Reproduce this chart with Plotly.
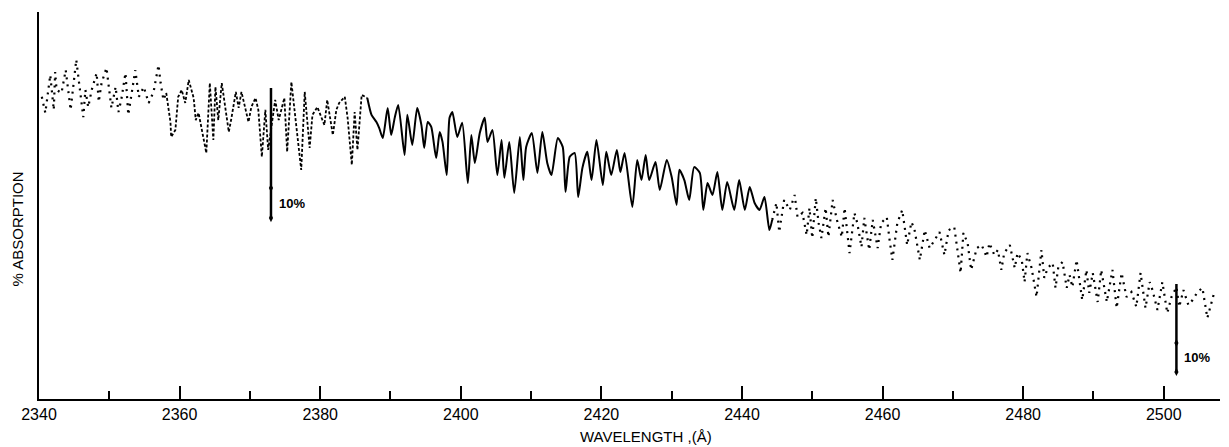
import plotly.graph_objects as go

# ---- data (wavelength in Angstrom, relative % absorption) ----
WAVELENGTH = [
    2340.4, 2340.9, 2341.6, 2342.1, 2342.3, 2342.5, 2343.2, 2343.8, 2344.5, 2345.3,
    2346.3, 2346.6, 2347.0, 2347.5, 2348.2, 2348.5, 2348.9, 2349.6, 2350.3, 2350.9,
    2351.3, 2351.7, 2352.3, 2352.7, 2353.7, 2354.2, 2354.9, 2355.6, 2356.3, 2357.0,
    2357.3, 2357.7, 2358.1, 2358.7, 2358.8, 2359.4, 2359.8, 2360.3, 2360.8, 2361.3,
    2362.0, 2362.3, 2362.7, 2363.1, 2363.8, 2364.3, 2364.8, 2365.1, 2365.5, 2366.0,
    2366.5, 2367.0, 2367.4, 2368.0, 2368.4, 2368.8, 2369.4, 2369.8, 2370.2, 2370.8,
    2371.2, 2371.7, 2372.2, 2372.6, 2373.6, 2374.1, 2374.9, 2375.3, 2375.9, 2376.3,
    2377.3, 2377.8, 2378.5, 2378.9, 2379.6, 2380.6, 2381.0, 2381.8, 2382.3, 2382.7,
    2383.5, 2383.9, 2384.5, 2384.9, 2385.3, 2385.9, 2386.7, 2387.3, 2388.0, 2388.4,
    2388.9, 2389.6, 2390.1, 2390.6, 2391.1, 2392.0, 2392.4, 2393.1, 2393.8, 2394.4,
    2394.8, 2395.3, 2395.8, 2396.5, 2397.0, 2397.4, 2398.0, 2398.4, 2398.8, 2399.5,
    2400.2, 2401.0, 2401.5, 2402.0, 2402.7, 2403.4, 2403.8, 2404.5, 2405.2, 2405.8,
    2406.2, 2406.9, 2407.6, 2408.4, 2408.9, 2409.3, 2410.1, 2410.9, 2411.6, 2412.3,
    2412.9, 2413.8, 2414.5, 2414.9, 2415.5, 2416.2, 2416.7, 2417.3, 2418.0, 2418.6,
    2419.3, 2420.2, 2420.7, 2421.4, 2422.2, 2422.7, 2423.3, 2424.4, 2425.1, 2425.7,
    2426.3, 2426.8, 2427.7, 2428.3, 2429.3, 2430.0, 2430.7, 2431.1, 2431.8, 2432.5,
    2433.2, 2434.0, 2434.5, 2435.1, 2435.8, 2436.5, 2437.2, 2437.9, 2438.9, 2439.6,
    2440.4, 2441.1, 2441.8, 2442.5, 2443.2, 2443.9, 2444.3, 2444.9, 2445.3, 2446.0,
    2446.8, 2447.5, 2447.9, 2448.6, 2449.2, 2449.6, 2450.0, 2450.5, 2450.9, 2451.3,
    2451.9, 2452.3, 2452.9, 2453.5, 2454.2, 2454.6, 2455.3, 2456.0, 2456.4, 2457.0,
    2457.4, 2458.1, 2458.6, 2459.3, 2459.8, 2460.6, 2461.0, 2461.4, 2462.1, 2462.8,
    2463.5, 2464.1, 2464.5, 2465.3, 2466.0, 2466.7, 2467.4, 2468.1, 2468.8, 2469.4,
    2470.2, 2471.1, 2471.5, 2472.1, 2472.6, 2473.4, 2474.1, 2474.8, 2475.2, 2475.9,
    2476.4, 2476.9, 2477.3, 2478.1, 2478.8, 2479.2, 2479.8, 2480.2, 2480.6, 2481.2,
    2481.9, 2482.6, 2483.0, 2483.5, 2484.2, 2484.6, 2485.0, 2485.6, 2486.2, 2486.6,
    2487.0, 2487.6, 2488.4, 2489.0, 2489.4, 2489.9, 2490.6, 2491.1, 2491.9, 2492.7,
    2493.3, 2494.0, 2494.7, 2495.4, 2496.1, 2496.7, 2497.4, 2498.0, 2498.4, 2499.1,
    2499.8, 2500.5, 2501.1, 2501.8, 2502.2, 2502.8, 2503.5, 2504.1, 2504.8, 2505.5,
    2506.2, 2506.8, 2507.2,
]
ABSORPTION = [
    109.3, 103.5, 117.2, 104.6, 118.3, 111.8, 110.7, 119.0, 104.6, 122.7,
    102.0, 111.8, 105.6, 111.8, 117.9, 107.5, 114.3, 119.8, 105.3, 112.9,
    103.8, 108.2, 117.9, 102.8, 119.0, 109.3, 112.9, 107.1, 111.1, 120.8,
    114.3, 108.2, 110.7, 100.2, 94.8, 97.3, 109.3, 111.8, 107.1, 115.4,
    108.9, 100.9, 103.5, 98.4, 89.0, 114.3, 93.7, 112.9, 100.9, 114.3,
    104.6, 96.6, 102.0, 111.1, 105.3, 111.1, 104.6, 100.2, 105.6, 108.9,
    104.6, 87.6, 104.6, 90.1, 108.2, 100.9, 108.9, 89.4, 114.7, 105.3,
    82.9, 111.1, 90.8, 102.8, 105.6, 99.1, 108.2, 95.5, 104.6, 107.1,
    109.3, 101.7, 84.7, 103.8, 90.1, 110.0, 108.9, 102.8, 100.2, 98.0,
    94.4, 105.3, 95.5, 101.7, 106.4, 88.3, 102.8, 91.9, 105.3, 99.1,
    90.8, 100.2, 98.4, 87.2, 96.6, 93.0, 81.0, 101.7, 103.8, 94.8,
    99.9, 78.1, 95.5, 85.4, 96.2, 101.7, 93.0, 97.3, 81.0, 93.7,
    80.0, 93.0, 74.5, 94.8, 79.2, 91.2, 96.2, 81.8, 96.6, 85.4,
    81.0, 94.4, 91.2, 74.9, 87.6, 89.0, 73.1, 83.6, 89.4, 79.2,
    93.7, 77.4, 89.4, 81.0, 90.1, 82.1, 89.0, 69.5, 86.5, 79.2,
    88.3, 79.2, 85.7, 75.6, 86.5, 80.3, 70.2, 82.9, 79.2, 72.0,
    83.9, 81.8, 68.4, 78.1, 73.8, 82.1, 68.4, 78.5, 68.4, 79.2,
    68.4, 76.7, 70.9, 68.4, 73.1, 61.1, 64.8, 70.9, 60.4, 72.0,
    68.4, 73.8, 65.8, 67.3, 59.3, 69.1, 58.2, 72.7, 63.7, 58.2,
    69.1, 58.6, 72.0, 64.8, 58.6, 69.1, 52.8, 67.3, 63.7, 55.0,
    65.5, 53.9, 64.8, 54.6, 63.7, 65.8, 57.5, 50.3, 63.7, 68.4,
    55.7, 64.0, 61.9, 50.3, 61.1, 54.6, 57.5, 60.4, 52.1, 61.1,
    62.2, 45.6, 60.1, 56.4, 46.7, 54.6, 55.7, 51.4, 56.4, 52.1,
    53.9, 46.7, 52.8, 55.7, 47.4, 52.8, 50.3, 42.3, 52.8, 47.4,
    36.9, 53.9, 43.8, 47.4, 49.2, 40.2, 47.8, 49.6, 40.2, 44.9,
    40.5, 50.3, 35.8, 46.7, 38.4, 45.6, 35.1, 46.7, 35.1, 46.7,
    32.9, 45.6, 36.9, 38.7, 33.3, 45.6, 32.9, 42.3, 39.4, 32.2,
    42.3, 31.1, 36.9, 40.5, 33.3, 39.4, 34.0, 35.8, 38.7, 40.2,
    29.3, 34.7, 38.7,
]

# wavelength limits of the differently inked stretches of the trace
SEGMENT_BREAKS = [2340.0, 2358.1, 2386.7, 2444.3, 2508.0]

# the two 10 % scale bars: wavelength, top, 10 % mark, bottom
SCALE_BAR_X = [2373.0, 2501.8]
SCALE_BAR_TOP = [112.5, 41.6]
SCALE_BAR_MARK = [76.3, 20.3]
SCALE_BAR_BOTTOM = [65.5, 9.8]
SCALE_LABEL = "10%"

X_TICKS = [2340, 2360, 2380, 2400, 2420, 2440, 2460, 2480, 2500]

fig = go.Figure()

styles = [
    dict(dash="2px,5px", width=2.2, shape="linear"),
    dict(dash="3px,2px", width=1.8, shape="linear"),
    dict(dash="solid", width=2.0, shape="spline"),
    dict(dash="2px,5px", width=2.2, shape="linear"),
]
for i, st in enumerate(styles):
    lo, hi = SEGMENT_BREAKS[i], SEGMENT_BREAKS[i + 1]
    xs = [w for w in WAVELENGTH if lo <= w <= hi]
    ys = [a for w, a in zip(WAVELENGTH, ABSORPTION) if lo <= w <= hi]
    line = dict(color="black", width=st["width"], dash=st["dash"], shape=st["shape"])
    if st["shape"] == "spline":
        line["smoothing"] = 0.6
    fig.add_trace(go.Scatter(x=xs, y=ys, mode="lines", line=line,
                             showlegend=False, hoverinfo="skip"))

for bx, top, mark, bot in zip(SCALE_BAR_X, SCALE_BAR_TOP, SCALE_BAR_MARK, SCALE_BAR_BOTTOM):
    fig.add_trace(go.Scatter(x=[bx, bx], y=[top, bot], mode="lines",
                             line=dict(color="black", width=2.5),
                             showlegend=False, hoverinfo="skip"))
    fig.add_trace(go.Scatter(x=[bx, bx], y=[mark, bot], mode="markers",
                             marker=dict(symbol="diamond-tall", size=6, color="black"),
                             showlegend=False, hoverinfo="skip"))
    fig.add_annotation(x=bx, y=(mark + bot) / 2, text="<b>" + SCALE_LABEL + "</b>",
                       showarrow=False, xanchor="left", xshift=6, yanchor="middle",
                       font=dict(family="Liberation Sans", size=13, color="black"))

fig.add_annotation(x=0.514, y=-0.098, xref="paper", yref="paper",
                   text="WAVELENGTH ,(Å)", showarrow=False,
                   xanchor="center", yanchor="middle",
                   font=dict(family="Liberation Sans", size=15, color="black"))
fig.add_annotation(x=-0.018, y=0.44, xref="paper", yref="paper",
                   text="% ABSORPTION", showarrow=False, textangle=-90,
                   xanchor="center", yanchor="middle",
                   font=dict(family="Liberation Sans", size=15, color="black"))

fig.update_layout(
    width=1229, height=447,
    margin=dict(l=39, r=9, t=12, b=48),
    paper_bgcolor="white", plot_bgcolor="white",
    xaxis=dict(
        range=[2340, 2508], showgrid=False, zeroline=False,
        showline=True, linecolor="black", linewidth=2,
        tickmode="array", tickvals=X_TICKS, ticktext=[str(t) for t in X_TICKS],
        ticks="inside", ticklen=13, tickwidth=2, tickcolor="black",
        minor=dict(dtick=10, tick0=2340, ticks="inside", ticklen=8,
                   tickwidth=2, tickcolor="black", showgrid=False),
        tickfont=dict(family="Liberation Sans", size=16, color="black"),
    ),
    yaxis=dict(
        range=[0, 140], showgrid=False, zeroline=False,
        showline=True, linecolor="black", linewidth=2,
        showticklabels=False, ticks="",
    ),
)

fig.write_html("out.html")
